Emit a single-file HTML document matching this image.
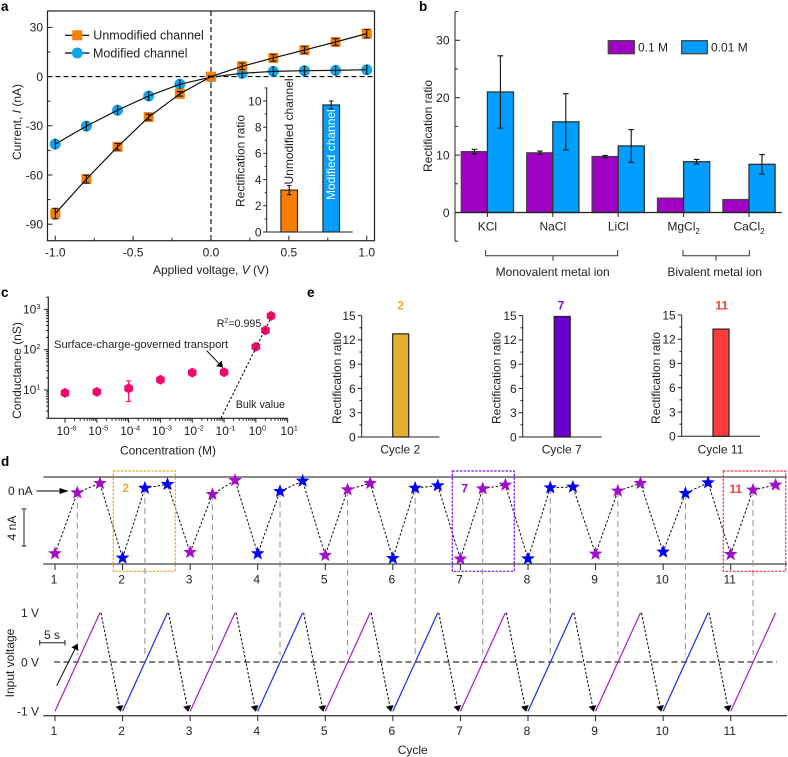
<!DOCTYPE html>
<html lang="en">
<head>
<meta charset="utf-8">
<title>Rectification chart figure</title>
<style>
html,body{margin:0;padding:0;background:#fff;}
svg{display:block;font-family:"Liberation Sans",sans-serif;font-size:12px;fill:#222;}
.pl{font-weight:bold;font-size:13.5px;fill:#000;}
</style>
</head>
<body>
<svg id="figure" xmlns="http://www.w3.org/2000/svg" width="788" height="757" viewBox="0 0 788 757">
  <defs>
    <marker id="ah" markerWidth="6" markerHeight="9" refX="5.5" refY="4" orient="auto" markerUnits="userSpaceOnUse"><path d="M0 0L6 4L0 8Z" fill="#000"/></marker>
    <marker id="ah2" markerWidth="9" markerHeight="7" refX="8.5" refY="3" orient="auto" markerUnits="userSpaceOnUse"><path d="M0 0L9 3L0 6Z" fill="#000"/></marker>
  </defs>

  <g id="panel-a">
    <text class="pl" x="1" y="11">a</text>
    <rect x="47.5" y="11" width="327" height="229.7" fill="none" stroke="#222" stroke-width="1.2"/>
    <line x1="47.5" y1="76.6" x2="374.5" y2="76.6" stroke="#000" stroke-width="1.1" stroke-dasharray="5 3"/>
    <line x1="211" y1="11" x2="211" y2="240.7" stroke="#000" stroke-width="1.1" stroke-dasharray="5 3"/>
    <text x="211" y="274" text-anchor="middle">Applied voltage, <tspan font-style="italic">V</tspan> (V)</text>
    <text transform="translate(21,122) rotate(-90)" text-anchor="middle">Current, <tspan font-style="italic">I</tspan> (nA)</text>
    <line x1="65" y1="35.3" x2="89.3" y2="35.3" stroke="#000" stroke-width="1.2"/>
    <rect x="72.3" y="30.3" width="10" height="10" fill="#f67f0c"/>
    <text x="93.3" y="39.6" font-size="12.5">Unmodified channel</text>
    <line x1="65" y1="53" x2="89.3" y2="53" stroke="#000" stroke-width="1.2"/>
    <circle cx="77.3" cy="53" r="5.5" fill="#12a5ea"/>
    <text x="93" y="57.3" font-size="12.5">Modified channel</text>
    <g id="a-series"></g>
    <g id="a-ticks"></g>
    <g id="inset">
      <line x1="266.7" y1="87.5" x2="266.7" y2="232" stroke="#222"/>
      <line x1="266.7" y1="232" x2="352.7" y2="232" stroke="#222"/>
      <text transform="translate(244.5,161) rotate(-90)" text-anchor="middle">Rectification ratio</text>
    </g>
  </g>

  <g id="panel-b">
    <text class="pl" x="419" y="11">b</text>
    <line x1="455" y1="11.7" x2="455" y2="241.3" stroke="#222"/>
    <text transform="translate(432,126) rotate(-90)" text-anchor="middle">Rectification ratio</text>
    <g id="b-bars"></g>
    <line x1="455" y1="212.5" x2="781.7" y2="212.5" stroke="#222" stroke-width="1.2"/>
    <rect x="608.3" y="40.7" width="26" height="13" fill="#a000c4" stroke="#444" stroke-width="1.3"/>
    <text x="638" y="51.6">0.1 M</text>
    <rect x="681.7" y="40.7" width="25.6" height="13" fill="#009fff" stroke="#444" stroke-width="1.3"/>
    <text x="711" y="51.6">0.01 M</text>
    <path d="M485.7 250V255.7H617.7V250M553 255.7V260.7" fill="none" stroke="#333"/>
    <path d="M683 250V255.7H749.3V250M716 255.7V260.7" fill="none" stroke="#333"/>
    <text x="552.7" y="276" text-anchor="middle">Monovalent metal ion</text>
    <text x="714.7" y="276" text-anchor="middle">Bivalent metal ion</text>
  </g>

  <g id="panel-c">
    <text class="pl" x="1" y="297">c</text>
    <line x1="48.3" y1="296.7" x2="48.3" y2="418.3" stroke="#222" stroke-width="1.2"/>
    <line x1="48.3" y1="418.3" x2="287.7" y2="418.3" stroke="#222" stroke-width="1.2"/>
    <g id="c-ticks"></g>
    <g id="c-series"></g>
    <text transform="translate(21,370.5) rotate(-90)" text-anchor="middle">Conductance (nS)</text>
    <text x="168" y="454.3" text-anchor="middle">Concentration (M)</text>
    <text x="54" y="348.2" font-size="11.2">Surface-charge-governed transport</text>
    <line x1="206.7" y1="350.7" x2="222.7" y2="367.3" stroke="#000" marker-end="url(#ah)"/>
    <text x="216.7" y="327" font-size="10.7">R<tspan font-size="7" dy="-4">2</tspan><tspan dy="4">=0.995</tspan></text>
    <text x="235.7" y="408" font-size="10.7">Bulk value</text>
  </g>

  <g id="panel-e">
    <text class="pl" x="307" y="297">e</text>
    <g id="e-charts"></g>
  </g>

  <g id="panel-d">
    <text class="pl" x="1" y="466">d</text>
    <line x1="43.3" y1="477" x2="787" y2="477" stroke="#444" stroke-width="1.3"/>
    <line x1="43.3" y1="564" x2="787" y2="564" stroke="#444" stroke-width="1.3"/>
    <line x1="43.3" y1="715.7" x2="787" y2="715.7" stroke="#444" stroke-width="1.3"/>
    <line x1="54" y1="662" x2="776.7" y2="662" stroke="#333" stroke-width="1.2" stroke-dasharray="6 3.5"/>
    <g id="d-series"></g>
    <g id="d-ticks"></g>
    <rect x="113.3" y="471" width="62" height="100.3" fill="none" stroke="#eca925" stroke-width="1.2" stroke-dasharray="2.5 1.3"/>
    <rect x="452.3" y="471" width="62" height="100.3" fill="none" stroke="#7a10f0" stroke-width="1.2" stroke-dasharray="2.5 1.3"/>
    <rect x="723.3" y="471" width="62.4" height="100.3" fill="none" stroke="#ff3030" stroke-width="1.2" stroke-dasharray="2.5 1.3"/>
    <text x="125.7" y="492" text-anchor="middle" font-weight="bold" fill="#e8b030">2</text>
    <text x="464.7" y="492.5" text-anchor="middle" font-weight="bold" fill="#8a10d0">7</text>
    <text x="735.7" y="493" text-anchor="middle" font-weight="bold" fill="#ff3b3b">11</text>
    <text x="8" y="495">0 nA</text>
    <line x1="36.5" y1="491" x2="68" y2="491" stroke="#000" marker-end="url(#ah2)"/>
    <path d="M21.5 509H26.5M24 509V546M21.5 546H26.5" fill="none" stroke="#222"/>
    <text transform="translate(16,528) rotate(-90)" text-anchor="middle">4 nA</text>
    <text transform="translate(14,663) rotate(-90)" text-anchor="middle">Input voltage</text>
    <text x="412.7" y="754" text-anchor="middle">Cycle</text>
    <path d="M39.7 640V645.5M39.7 642.7H65M65 640V645.5" fill="none" stroke="#222"/>
    <text x="52" y="639" text-anchor="middle">5 s</text>
    <line x1="56.7" y1="685.7" x2="77.3" y2="644.3" stroke="#000" marker-end="url(#ah)"/>
  </g>
</svg>

<script>
// ---------- Panel a data ----------
const aVoltages = [-1, -0.8, -0.6, -0.4, -0.2, 0, 0.2, 0.4, 0.6, 0.8, 1];
const aUnmodified = [-83.5, -62.5, -42.8, -24.7, -10.5, 0, 6.3, 11.4, 16.2, 21.1, 26.2];
const aUnmodifiedErr = [3.2, 2.4, 2, 1.8, 1.4, 0.3, 2, 2, 2, 2, 2.6];
const aModified = [-41.2, -30.2, -20.5, -11.8, -4.7, -0.3, 2, 3.2, 3.6, 3.8, 4.2];
const aModifiedErr = [2.8, 2.6, 2.6, 2.6, 2.6, 0.4, 2.6, 2.6, 2.6, 2.6, 2.6];
const aXTicks = [-1, -0.5, 0, 0.5, 1];
const aXTickLabels = ['-1.0', '-0.5', '0.0', '0.5', '1.0'];
const aXMinor = [-0.75, -0.25, 0.25, 0.75];
const aYTicks = [30, 0, -30, -60, -90];
const aYTickLabels = ['30', '0', '-30', '-60', '-90'];
const aYMinor = [15, -15, -45, -75];
const insetCategories = ['Unmodified channel', 'Modified channel'];
const insetValues = [3.2, 9.7];
const insetErrs = [0.35, 0.3];
const insetTicks = [0, 2, 4, 6, 8, 10];
const insetMinor = [1, 3, 5, 7, 9, 11];

// ---------- Panel b data ----------
const bCategories = ['KCl', 'NaCl', 'LiCl', 'MgCl', 'CaCl'];
const bSubscripts = ['', '', '', '2', '2'];
const bLow = [10.6, 10.4, 9.75, 2.5, 2.25];
const bLowErr = [0.4, 0.3, 0.2, 0, 0];
const bHigh = [21, 15.8, 11.6, 8.85, 8.4];
const bHighErr = [6.3, 4.9, 2.85, 0.4, 1.7];
const bYTicks = [0, 10, 20, 30];
const bYMinor = [-5, 5, 15, 25, 35];

// ---------- Panel c data ----------
const cConcentration = [1e-6, 1e-5, 1e-4, 1e-3, 1e-2, 1e-1, 1, 2, 3];
const cConductance = [8.5, 9, 11, 18, 27, 27.5, 118, 300, 690];
const cError = [0, 0, 5.8, 0, 0, 0, 0, 0, 0];
const cFitX = [0.08, 3.5];
const cFitY = [2, 800];
const cXExponents = [-6, -5, -4, -3, -2, -1, 0, 1];
const cYExponents = [1, 2, 3];
const cMinorMultipliers = [2, 3, 4, 5, 6, 7, 8, 9];

// ---------- Panel e data ----------
const eTitles = ['2', '7', '11'];
const eCategories = ['Cycle 2', 'Cycle 7', 'Cycle 11'];
const eValues = [12.75, 14.9, 13.25];
const eTicks = [0, 3, 6, 9, 12, 15];

// ---------- Panel d data ----------
const dCycles = [1, 2, 3, 4, 5, 6, 7, 8, 9, 10, 11];
const dCurrentLow = [-6.77, -7.24, -6.63, -6.77, -6.95, -7.28, -7.35, -7.32, -6.81, -6.59, -6.85];
const dCurrentMid = [-0.18, 0.32, -0.36, -0.04, 0.14, 0.32, 0.25, 0.36, 0, -0.25, 0.11];
const dCurrentHigh = [0.83, 0.72, 1.15, 1.08, 0.83, 0.58, 0.65, 0.43, 0.83, 0.9, 0.65];
const dCycleType = ['p', 'b', 'p', 'b', 'p', 'b', 'p', 'b', 'p', 'b', 'p'];
const dVoltageTicks = [1, 0, -1];
const dVoltageLabels = ['1 V', '0 V', '-1 V'];
const dSweepPhases = [0, 0.33, 0.665];
const dSweepRange = [-1, 1];

// ---------- Axis functions ----------
const xA = v => 211 + v * 155.75;
const yA = v => 76.6 - v * 1.64;
const yInset = v => 232 - v * 13.1;
const yB = v => 212.5 - v * 5.74;
const xC = v => 65 + (Math.log10(v) + 6) * 31.81;
const yC = v => 390 - (Math.log10(v) - 1) * 40.33;
const xD = c => 55 + (c - 1) * 67.57;
const yCur = v => 491 - v * 9.25;
const yVolt = v => 662 - v * 49.2;

const NS = 'http://www.w3.org/2000/svg';
function mk(tag, parent, attrs) {
  const n = document.createElementNS(NS, tag);
  for (const k in attrs) n.setAttribute(k, attrs[k]);
  parent.appendChild(n);
  return n;
}
function tick(parent, x1, y1, x2, y2, name) {
  const el = mk('line', parent, { x1: x1, y1: y1, x2: x2, y2: y2, stroke: '#222', 'stroke-width': 1 });
  
  
  return el;
}
function label(parent, x, y, str, anchor, name) {
  const el = mk('text', parent, { x: x, y: y, 'text-anchor': anchor });
  el.textContent = str;
  
  
  return el;
}
function errorBar(parent, x, yTop, yBottom, cap, color, name) {
  const d = 'M' + (x - cap) + ' ' + yTop + 'H' + (x + cap) + 'M' + x + ' ' + yTop + 'V' + yBottom + 'M' + (x - cap) + ' ' + yBottom + 'H' + (x + cap);
  const el = mk('path', parent, { d: d, fill: 'none', stroke: color, 'stroke-width': 1.1 });
  
  
  return el;
}
function starPath(cx, cy, R) {
  let d = '';
  for (let i = 0; i < 10; i++) {
    const r = i % 2 ? R * 0.42 : R;
    const t = -Math.PI / 2 + i * Math.PI / 5;
    d += (i ? 'L' : 'M') + (cx + r * Math.cos(t)).toFixed(2) + ' ' + (cy + r * Math.sin(t)).toFixed(2);
  }
  return d + 'Z';
}

// ---------- Draw panel a ----------
const aTicks = document.getElementById('a-ticks');
aXTicks.forEach((v, i) => {
  tick(aTicks, xA(v), 240.7, xA(v), 235.7, 'x-tick-a');
  label(aTicks, xA(v), 256.3, aXTickLabels[i], 'middle', 'x-tick-label-a');
});
aXMinor.forEach(v => {
  tick(aTicks, xA(v), 240.7, xA(v), 237.7, 'x-minor-tick-a');
});
aYTicks.forEach((v, i) => {
  tick(aTicks, 47.5, yA(v), 52.5, yA(v), 'y-tick-a');
  label(aTicks, 43, yA(v) + 4.3, aYTickLabels[i], 'end', 'y-tick-label-a');
});
aYMinor.forEach(v => {
  tick(aTicks, 47.5, yA(v), 50.5, yA(v), 'y-minor-tick-a');
});

const aSeries = document.getElementById('a-series');
function drawIV(values, errs, kind) {
  const pts = aVoltages.map((v, i) => xA(v) + ',' + yA(values[i])).join(' ');
  aVoltages.forEach((v, i) => {
    if (kind === 'unmodified') {
      const m = mk('rect', aSeries, { x: xA(v) - 5, y: yA(values[i]) - 5, width: 10, height: 10, fill: '#f67f0c' });
      
      
    } else {
      const m = mk('circle', aSeries, { cx: xA(v), cy: yA(values[i]), r: 5.5, fill: '#12a5ea' });
      
      
    }
  });
  const line = mk('polyline', aSeries, { points: pts, fill: 'none', stroke: '#111', 'stroke-width': 1.2 });
  
  
  aVoltages.forEach((v, i) => {
    errorBar(aSeries, xA(v), yA(values[i] + errs[i]), yA(values[i] - errs[i]), kind === 'unmodified' ? 3 : 1, '#111', 'error-bar-' + kind);
  });
}
drawIV(aModified, aModifiedErr, 'modified');
drawIV(aUnmodified, aUnmodifiedErr, 'unmodified');

const inset = document.getElementById('inset');
const insetX = [289.2, 331.2];
const insetColors = ['#f77f00', '#009fff'];
insetCategories.forEach((c, i) => {
  const bar = mk('rect', inset, { x: insetX[i] - 8.3, y: yInset(insetValues[i]), width: 16.6, height: 232 - yInset(insetValues[i]), fill: insetColors[i], stroke: '#222', 'stroke-width': 1.1 });
  
  
  errorBar(inset, insetX[i], yInset(insetValues[i] + insetErrs[i]), yInset(insetValues[i] - insetErrs[i]), 2.2, '#111', 'inset-error-bar');
  const t = mk('text', inset, { 'text-anchor': 'start', fill: i ? '#fff' : '#222' });
  const baseY = i ? 200 : 184.5;
  t.setAttribute('transform', 'translate(' + (insetX[i] + 4) + ',' + baseY + ') rotate(-90)');
  t.textContent = c;
  
  
});
insetTicks.forEach(v => {
  tick(inset, 263.2, yInset(v), 266.7, yInset(v), 'inset-y-tick');
  label(inset, 261.5, yInset(v) + 4.3, String(v), 'end', 'inset-y-tick-label');
});
insetMinor.forEach(v => {
  tick(inset, 264.7, yInset(v), 266.7, yInset(v), 'inset-y-minor-tick');
});

// ---------- Draw panel b ----------
const bGroup = document.getElementById('b-bars');
bYTicks.forEach(v => {
  tick(bGroup, 455, yB(v), 460, yB(v), 'y-tick-b');
  label(bGroup, 449.5, yB(v) + 4.3, String(v), 'end', 'y-tick-label-b');
});
bYMinor.forEach(v => {
  tick(bGroup, 455, yB(v), 458, yB(v), 'y-minor-tick-b');
});
bCategories.forEach((c, i) => {
  const cx = 487.4 + i * 65.4;
  const lo = mk('rect', bGroup, { x: cx - 26.1, y: yB(bLow[i]), width: 26.1, height: 212.5 - yB(bLow[i]), fill: '#a000c4', stroke: '#444', 'stroke-width': 1.3 });
  
  
  const hi = mk('rect', bGroup, { x: cx, y: yB(bHigh[i]), width: 26.1, height: 212.5 - yB(bHigh[i]), fill: '#009fff', stroke: '#333', 'stroke-width': 1.3 });
  
  
  if (bLowErr[i] > 0) errorBar(bGroup, cx - 13, yB(bLow[i] + bLowErr[i]), yB(bLow[i] - bLowErr[i]), 2.8, '#111', 'error-bar-0-1m');
  errorBar(bGroup, cx + 13, yB(bHigh[i] + bHighErr[i]), yB(bHigh[i] - bHighErr[i]), 2.8, '#111', 'error-bar-0-01m');
  tick(bGroup, cx, 212.5, cx, 217, 'x-tick-b');
  const t = label(bGroup, cx, 230.3, c, 'middle', 'x-tick-label-b');
  if (bSubscripts[i]) {
    const s = mk('tspan', t, { dy: 3.5, 'font-size': 8 });
    s.textContent = bSubscripts[i];
    
    
  }
});

// ---------- Draw panel c ----------
const cTicks = document.getElementById('c-ticks');
function powerLabel(parent, x, y, exp, anchor, name) {
  const t = label(parent, x, y, '10', anchor, name);
  const s = mk('tspan', t, { dy: -4.5, 'font-size': 7.5 });
  s.textContent = String(exp);
  
  
}
cXExponents.forEach((e, i) => {
  const p = Math.pow(10, e);
  tick(cTicks, xC(p), 418.3, xC(p), 422.8, 'x-tick-c');
  powerLabel(cTicks, xC(p) + 1.5, 435, e, 'middle', 'x-tick-label-c');
  if (i < cXExponents.length - 1) {
    cMinorMultipliers.forEach(m => {
      tick(cTicks, xC(m * p), 418.3, xC(m * p), 420.8, 'x-minor-tick-c');
    });
  }
});
cYExponents.forEach(e => {
  const p = Math.pow(10, e);
  tick(cTicks, 44, yC(p), 48.3, yC(p), 'y-tick-c');
  powerLabel(cTicks, 40.5, yC(p) + 4, e, 'end', 'y-tick-label-c');
});
[0, 1, 2, 3].forEach(d => {
  cMinorMultipliers.forEach(m => {
    const v = m * Math.pow(10, d);
    if (v >= 2 && v <= 2000) tick(cTicks, 46, yC(v), 48.3, yC(v), 'y-minor-tick-c');
  });
});
const cSeries = document.getElementById('c-series');
cConcentration.forEach((v, i) => {
  const cx = xC(v), cy = yC(cConductance[i]), r = 5;
  let d = '';
  for (let k = 0; k < 6; k++) {
    const t = Math.PI / 6 + k * Math.PI / 3;
    d += (k ? 'L' : 'M') + (cx + r * Math.cos(t)).toFixed(2) + ' ' + (cy + r * Math.sin(t)).toFixed(2);
  }
  if (cError[i] > 0) errorBar(cSeries, cx, yC(cConductance[i] + cError[i]), yC(cConductance[i] - cError[i]), 2.5, '#f5086e', 'error-bar-c');
  const h = mk('path', cSeries, { d: d + 'Z', fill: '#f5086e' });
  
  
});
const fit = mk('line', cSeries, { x1: xC(cFitX[0]), y1: yC(cFitY[0]), x2: xC(cFitX[1]), y2: yC(cFitY[1]), stroke: '#000', 'stroke-dasharray': '2.5 1.8' });



// ---------- Draw panel e ----------
const eGroup = document.getElementById('e-charts');
const eAxisX = [361.7, 522.7, 681.7];
const eAxisEnd = [439.3, 601.7, 760];
const eBarCentre = [400.7, 562.2, 721];
const eZero = [437, 437, 436.3];
const eTitleCentre = [400.7, 561, 721.7];
const eColors = ['#e6ae2e', '#6a00d0', '#ff3b3b'];
const eTitleColors = ['#e8ac30', '#7a10e0', '#ff3b3b'];
const eTitleX = [337, 496.7, 656];
eValues.forEach((v, i) => {
  const yE = val => eZero[i] - val * 8.09;
  const panel = mk('g', eGroup, {});
  
  
  tick(panel, eAxisX[i], yE(15), eAxisX[i], eZero[i], 'y-axis-e');
  tick(panel, eAxisX[i], eZero[i], eAxisEnd[i], eZero[i], 'x-axis-e');
  eTicks.forEach(t => {
    tick(panel, eAxisX[i] - 4, yE(t), eAxisX[i], yE(t), 'y-tick-e');
    label(panel, eAxisX[i] - 6, yE(t) + 4.3, String(t), 'end', 'y-tick-label-e');
    if (t < 15) tick(panel, eAxisX[i] - 2.3, yE(t + 1.5), eAxisX[i], yE(t + 1.5), 'y-minor-tick-e');
  });
  const bar = mk('rect', panel, { x: eBarCentre[i] - 8, y: yE(v), width: 16, height: eZero[i] - yE(v), fill: eColors[i], stroke: '#222', 'stroke-width': 1.2 });
  
  
  const title = label(panel, eTitleCentre[i], 309.3, eTitles[i], 'middle', 'chart-title-e');
  title.setAttribute('font-weight', 'bold');
  title.setAttribute('fill', eTitleColors[i]);
  label(panel, eBarCentre[i] - 0.5, 453.5, eCategories[i], 'middle', 'x-tick-label-e');
  const yt = mk('text', panel, { 'text-anchor': 'middle' });
  yt.setAttribute('transform', 'translate(' + (eTitleX[i] + 4) + ',378) rotate(-90)');
  yt.textContent = 'Rectification ratio';
  
  
});

// ---------- Draw panel d ----------
const dSeries = document.getElementById('d-series');
const dTicks = document.getElementById('d-ticks');
const typeColor = { p: '#a010c8', b: '#0000f5' };
const rampColor = { p: '#a81cc8', b: '#1a2cf0' };
const [phaseLow, phaseMid, phaseHigh] = dSweepPhases;

// grey guide lines
dCycles.forEach((c, i) => {
  const g = mk('line', dSeries, { x1: xD(c + phaseMid), y1: yCur(dCurrentMid[i]), x2: xD(c + phaseMid), y2: 655, stroke: '#999', 'stroke-width': 1.1, 'stroke-dasharray': '6 4' });
  
  
});
// dotted current path
let curPts = [];
dCycles.forEach((c, i) => {
  curPts.push(xD(c + phaseLow) + ',' + yCur(dCurrentLow[i]));
  curPts.push(xD(c + phaseMid) + ',' + yCur(dCurrentMid[i]));
  curPts.push(xD(c + phaseHigh) + ',' + yCur(dCurrentHigh[i]));
});
const curLine = mk('polyline', dSeries, { points: curPts.join(' '), fill: 'none', stroke: '#111', 'stroke-width': 1, 'stroke-dasharray': '2.5 1.8' });


// stars
dCycles.forEach((c, i) => {
  [dCurrentLow[i], dCurrentMid[i], dCurrentHigh[i]].forEach((v, k) => {
    const s = mk('path', dSeries, { d: starPath(xD(c + dSweepPhases[k]), yCur(v), 7.2), fill: typeColor[dCycleType[i]] });
    
    
  });
});
// voltage ramps and falling arrows
dCycles.forEach((c, i) => {
  const r = mk('line', dSeries, { x1: xD(c), y1: yVolt(dSweepRange[0]), x2: xD(c + phaseHigh), y2: yVolt(dSweepRange[1]), stroke: rampColor[dCycleType[i]], 'stroke-width': 1.2 });
  
  
  if (i < dCycles.length - 1) {
    const a = mk('line', dSeries, { x1: xD(c + phaseHigh) + 1, y1: yVolt(dSweepRange[1]), x2: xD(c + 1) - 2, y2: yVolt(dSweepRange[0]), stroke: '#000', 'stroke-width': 1, 'stroke-dasharray': '2.5 1.8', 'marker-end': 'url(#ah)' });
    
    
  }
  tick(dTicks, xD(c), 564, xD(c), 570, 'x-tick-current');
  label(dTicks, xD(c) - 1, 583.3, String(c), 'middle', 'x-tick-label-current');
  tick(dTicks, xD(c), 715.7, xD(c), 721, 'x-tick-voltage');
  label(dTicks, xD(c) - 1, 735, String(c), 'middle', 'x-tick-label-voltage');
});
dVoltageTicks.forEach((v, i) => {
  label(dTicks, 39, yVolt(v) + 4.3, dVoltageLabels[i], 'end', 'voltage-tick-label');
});
</script>
</body>
</html>
